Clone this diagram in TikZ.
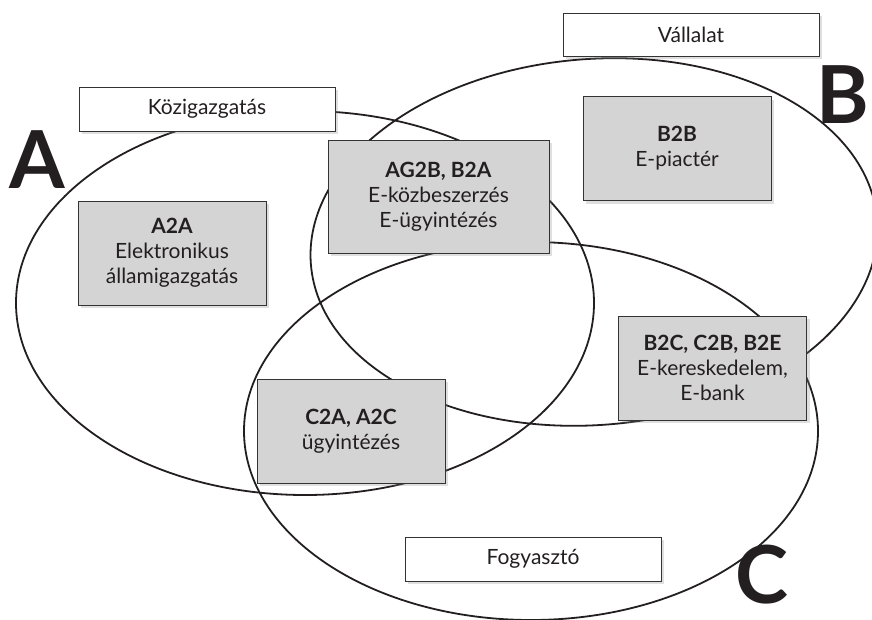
\documentclass[tikz,border=0pt]{standalone}
\usepackage{fontspec}
\setmainfont{Lato}
\usetikzlibrary{shapes.geometric,shadows}
\definecolor{boxgrey}{HTML}{D4D4D4}
\definecolor{inktext}{HTML}{231F20}
\definecolor{framegrey}{HTML}{333333}

\begin{document}
\begin{tikzpicture}[x=1pt,y=-1pt,
  venn/.style={ellipse,draw=inktext,line width=1.8pt,inner sep=0pt,outer sep=0pt},
  sector/.style={draw=framegrey,fill=white,line width=0.9pt,
                 minimum width=256pt,minimum height=44pt,inner sep=0pt,
                 font=\fontsize{21}{25}\selectfont,text=inktext,
                 drop shadow={shadow xshift=3pt,shadow yshift=-3pt,opacity=0.25}},
  field/.style={sector,fill=boxgrey,minimum width=188pt,minimum height=104pt,
                align=center},
  bigletter/.style={inner sep=0pt,anchor=base west,text=inktext,
                    font=\fontsize{80}{80}\selectfont\bfseries}]
\useasboundingbox (0,0) rectangle (872,619);
% the three sets
\node[venn,minimum width=578pt,minimum height=384pt] (setA) at (305,303) {};
\node[venn,rotate=4.5,minimum width=568pt,minimum height=366pt] (setB) at (594,242) {};
\node[venn,minimum width=574pt,minimum height=378pt] (setC) at (531,431) {};
% set letters
\node[bigletter] (letterA) at (9,188) {A};
\node[bigletter] (letterB) at (816,123) {B};
\node[bigletter] (letterC) at (735,603) {C};
% sector names
\node[sector] (kozig) at (207,109) {Közigazgatás};
\node[sector,minimum height=43pt] (vallalat) at (691,34.5) {Vállalat};
\node[sector] (fogyaszto) at (533,559) {Fogyasztó};
% relations
\node[field] (a2a) at (172,253) {\textbf{A2A}\\Elektronikus\\államigazgatás};
\node[field,minimum width=221pt,minimum height=113pt] (ag2b) at (438.5,196.5)
  {\textbf{AG2B, B2A}\\E-közbeszerzés\\E-ügyintézés};
\node[field] (b2b) at (677,148.5) {\textbf{B2B}\\E-piactér};
\node[field] (b2c) at (712.5,368) {\textbf{B2C, C2B, B2E}\\E-kereskedelem,\\E-bank};
\node[field] (c2a) at (351,431) {\textbf{C2A, A2C}\\ügyintézés};
\end{tikzpicture}
\end{document}
